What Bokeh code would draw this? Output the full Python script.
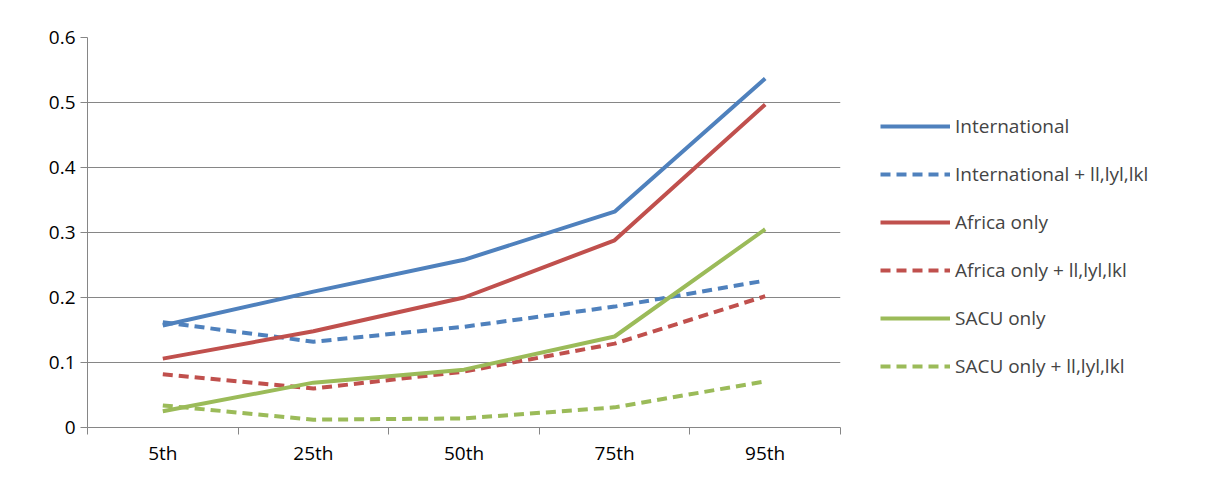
from bokeh.plotting import figure
from bokeh.models import FixedTicker, Legend, LegendItem, Range1d
from bokeh.embed import file_html
from bokeh.resources import INLINE

categories = ["5th", "25th", "50th", "75th", "95th"]
international = [0.157, 0.209, 0.258, 0.332, 0.537]
international_x = [0.162, 0.132, 0.155, 0.186, 0.226]
africa = [0.106, 0.148, 0.200, 0.288, 0.497]
africa_x = [0.082, 0.060, 0.086, 0.129, 0.202]
sacu = [0.025, 0.069, 0.089, 0.140, 0.305]
sacu_x = [0.034, 0.012, 0.014, 0.031, 0.071]

xs = list(range(len(categories)))
FONT = "Open Sans"

p = figure(frame_width=753, frame_height=390, output_backend="svg", toolbar_location=None,
           x_range=Range1d(-0.5, 4.5), y_range=Range1d(0, 0.6),
           min_border_left=87, min_border_top=37, min_border_bottom=50, min_border_right=0)
p.outline_line_color = None
p.border_fill_color = "white"

series = [
    ("International", international, "#4F81BD", "solid"),
    ("International + ll,lyl,lkl", international_x, "#4F81BD", "10 6"),
    ("Africa only", africa, "#C0504D", "solid"),
    ("Africa only + ll,lyl,lkl", africa_x, "#C0504D", "10 6"),
    ("SACU only", sacu, "#9BBB59", "solid"),
    ("SACU only + ll,lyl,lkl", sacu_x, "#9BBB59", "10 6"),
]
items = []
for name, ys, color, dash in series:
    r = p.line(xs, ys, line_color=color, line_width=4, line_dash=dash)
    items.append(LegendItem(label=name, renderers=[r]))

p.xaxis.ticker = FixedTicker(ticks=xs, minor_ticks=[-0.5, 0.5, 1.5, 2.5, 3.5, 4.5])
p.xaxis.major_label_overrides = {i: c for i, c in enumerate(categories)}
p.xaxis.minor_tick_in = 0
p.xaxis.minor_tick_out = 7
p.xaxis.minor_tick_line_color = "#868686"
p.yaxis.ticker = FixedTicker(ticks=[0, 0.1, 0.2, 0.3, 0.4, 0.5, 0.6])
p.yaxis.major_label_overrides = {0: "0"}
p.yaxis.minor_tick_line_color = None
p.yaxis.major_tick_in = 0
p.yaxis.major_tick_out = 7
for ax in (p.xaxis, p.yaxis):
    ax.axis_line_color = "#868686"
    ax.major_label_text_font = FONT
    ax.major_label_text_font_size = "19px"
    ax.major_label_text_color = "black"
p.xaxis.major_tick_line_color = None
p.yaxis.major_tick_line_color = "#868686"
p.xgrid.grid_line_color = None
p.ygrid.grid_line_color = "#868686"

legend = Legend(items=items, location=(40, 48), spacing=22, glyph_width=70,
                label_text_font=FONT, label_text_font_size="19px",
                border_line_color=None, background_fill_alpha=0, margin=0, padding=5)
p.add_layout(legend, "right")
p.min_border_right = 375

open("out.html", "w").write(file_html(p, INLINE))
